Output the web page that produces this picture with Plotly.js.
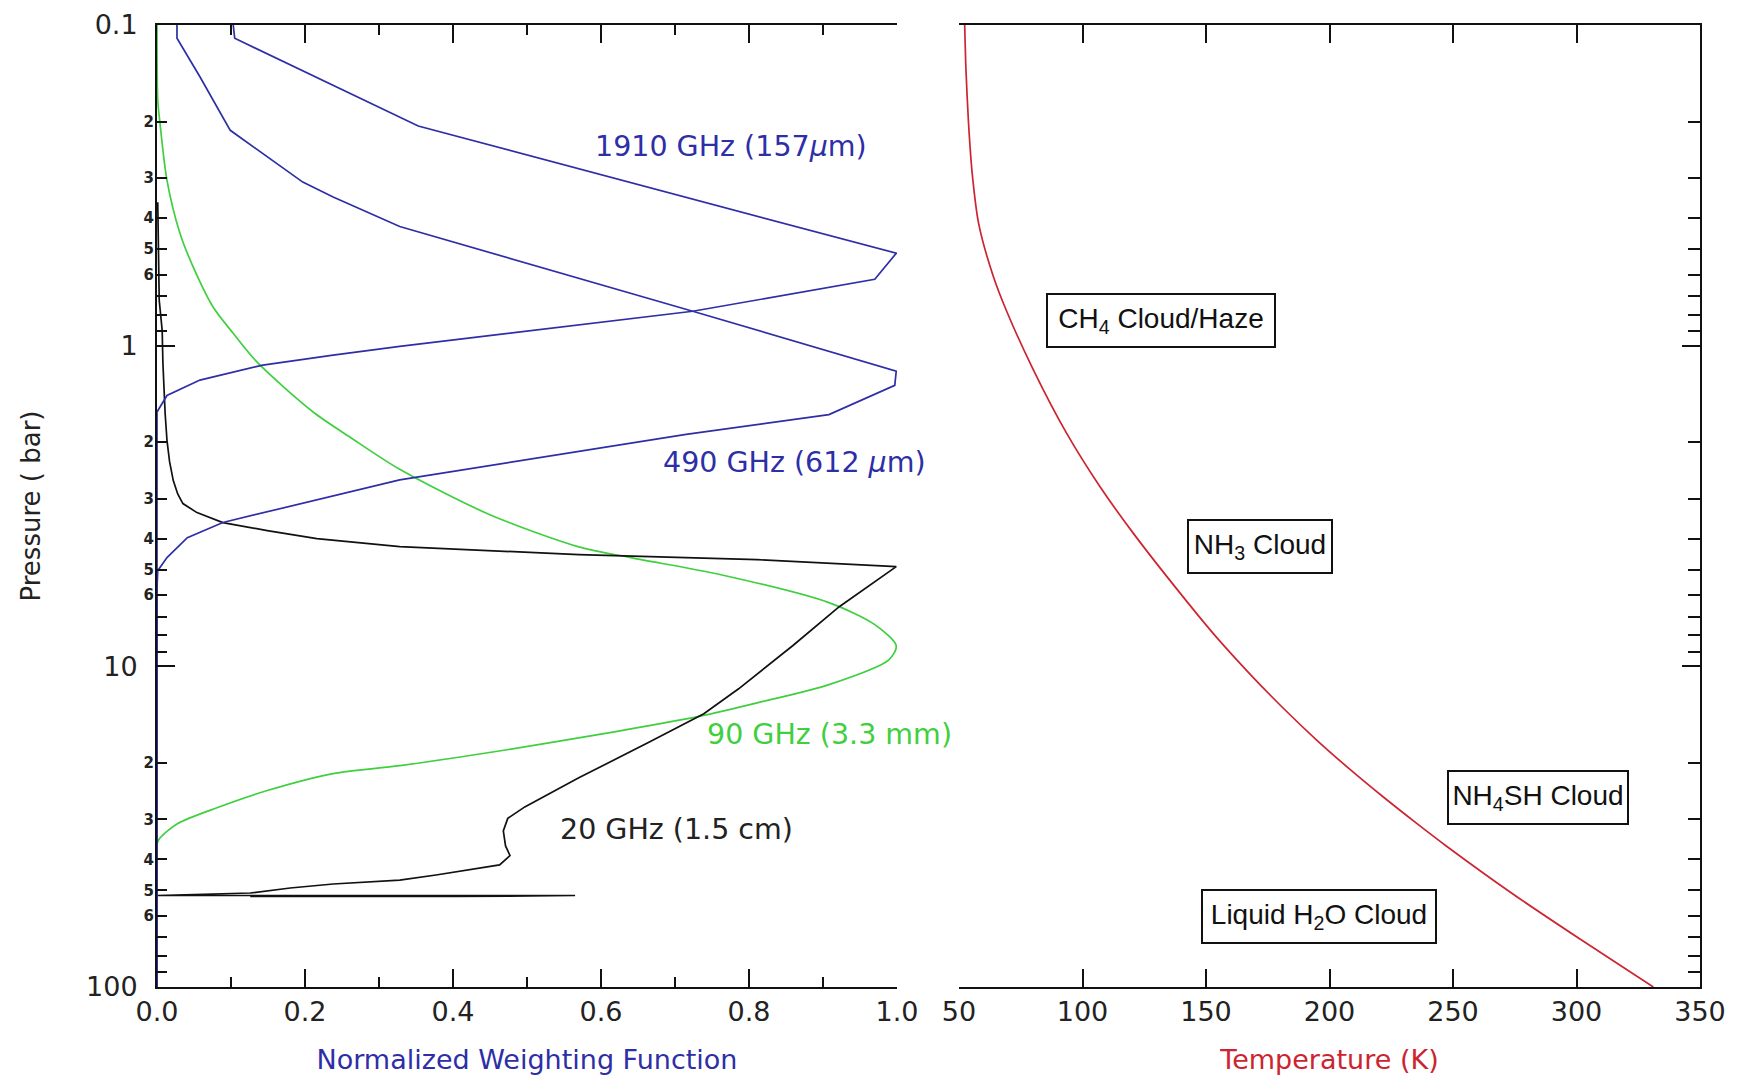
<!DOCTYPE html>
<html>
<head>
<meta charset="utf-8">
<script src="https://cdn.plot.ly/plotly-3.0.1.min.js"></script>
<style>html,body{margin:0;padding:0;background:#fff;}#chart{width:1749px;height:1079px;}</style>
</head>
<body>
<div id="chart"></div>
<script>
// ---------------- DATA ----------------
// 1910 GHz (157 um) weighting function: normalized weight vs pressure (bar)
const wf1910_w = [0.103, 0.105, 0.353, 0.999, 0.970, 0.724, 0.328, 0.238, 0.143, 0.058, 0.0135, 0, 0];
const wf1910_p = [0.100, 0.110, 0.2065, 0.515, 0.621, 0.781, 1.005, 1.07, 1.15, 1.28, 1.43, 1.61, 100];

// 490 GHz (612 um)
const wf490_w = [0.027, 0.027, 0.058, 0.099, 0.197, 0.238, 0.328, 0.724, 0.999, 0.997, 0.908, 0.715, 0.328, 0.089, 0.041, 0.0135, 0.001, 0, 0];
const wf490_p = [0.100, 0.110, 0.145, 0.213, 0.309, 0.344, 0.425, 0.781, 1.20, 1.33, 1.64, 1.89, 2.62, 3.56, 3.97, 4.58, 5.03, 5.69, 100];

// 90 GHz (3.3 mm)
const wf90_w = [0, 0.001, 0.004, 0.0135, 0.031, 0.049, 0.076, 0.103, 0.136, 0.211, 0.261, 0.328, 0.449, 0.570, 0.642, 0.762, 0.908, 0.970, 0.999, 0.989, 0.908, 0.811, 0.734, 0.618, 0.473, 0.328, 0.238, 0.149, 0.081, 0.027, 0.004, 0, 0];
const wf90_p = [0.100, 0.171, 0.202, 0.305, 0.446, 0.569, 0.759, 0.915, 1.13, 1.61, 1.93, 2.43, 3.36, 4.24, 4.59, 5.18, 6.33, 7.41, 8.63, 9.54, 11.4, 13.0, 14.3, 16.0, 18.2, 20.4, 21.6, 24.4, 27.6, 31.0, 34.3, 35.8, 100];

// 20 GHz (1.5 cm)
const wf20_w = [0.001, 0.003, 0.007, 0.008, 0.011, 0.0135, 0.017, 0.022, 0.028, 0.035, 0.054, 0.089, 0.149, 0.216, 0.328, 0.570, 0.811, 0.999, 0.922, 0.859, 0.786, 0.739, 0.666, 0.570, 0.497, 0.474, 0.468, 0.471, 0.477, 0.463, 0.377, 0.328, 0.238, 0.180, 0.126, 0, 0.565, 0.401, 0.126];
const wf20_p = [0.357, 0.722, 0.896, 1.136, 1.627, 1.976, 2.30, 2.634, 2.90, 3.108, 3.316, 3.563, 3.773, 3.997, 4.233, 4.483, 4.648, 4.888, 6.516, 8.625, 11.75, 14.06, 17.19, 22.27, 27.44, 29.8, 32.6, 36.3, 38.9, 41.6, 44.74, 46.39, 47.73, 49.12, 50.92, 51.84, 51.84, 52.21, 52.21];

// Temperature profile (K) vs pressure (bar)
const temp_T = [52.3, 52.8, 53.8, 55.3, 58.0, 63.8, 69.3, 80.1, 93.6, 107.1, 120.6, 140.9, 154.3, 167.8, 181.3, 194.8, 208.3, 221.8, 235.3, 247.4, 274.4, 301.4, 331.1];
const temp_p = [0.100, 0.137, 0.199, 0.288, 0.418, 0.605, 0.781, 1.189, 1.877, 2.754, 3.849, 6.095, 8.125, 10.57, 13.51, 16.98, 20.96, 25.56, 30.89, 36.39, 51.38, 70.86, 100];

// Curve labels (weight, pressure)
const curveLabels = ['1910 GHz (157<i>µ</i>m)', '490 GHz (612 <i>µ</i>m)', '90 GHz (3.3 mm)', '20 GHz (1.5 cm)'];
const curveLabelW = [0.589, 0.681, 0.741, 0.542];
const curveLabelP = [0.2386, 2.306, 16.36, 32.37];

// Cloud labels (temperature, pressure)
const cloudLabels = ['CH<sub>4</sub> Cloud/Haze', 'NH<sub>3</sub> Cloud', 'NH<sub>4</sub>SH Cloud', 'Liquid H<sub>2</sub>O Cloud'];
const cloudT = [131.8, 171.9, 284.4, 195.7];
const cloudP = [0.837, 4.22, 25.6, 60.3];

// Tick labels
const weightTickVals = [0, 0.2, 0.4, 0.6, 0.8, 1.0];
const weightTickText = ['0.0', '0.2', '0.4', '0.6', '0.8', '1.0'];
const weightMinorVals = [0.1, 0.3, 0.5, 0.7, 0.9];
const tempTickVals = [50, 100, 150, 200, 250, 300, 350];
const tempTickText = ['50', '100', '150', '200', '250', '300', '350'];
const presMajorVals = [0.1, 1, 10, 100];
const presMajorText = ['0.1', '1', '10', '100'];
const presLabeledMinorVals = [0.2, 0.3, 0.4, 0.5, 0.6, 2, 3, 4, 5, 6, 20, 30, 40, 50, 60];
const presLabeledMinorText = ['2', '3', '4', '5', '6', '2', '3', '4', '5', '6', '2', '3', '4', '5', '6'];
const presUnlabeledMinorVals = [0.7, 0.8, 0.9, 7, 8, 9, 70, 80, 90];
const presMinorVals = presLabeledMinorVals.concat(presUnlabeledMinorVals);

// ---------------- STYLE ----------------
const BLUE = '#2e2ea6';
const GREEN = '#3fcf3f';
const RED = '#cc2430';
const FONT = 'DejaVu Sans, Verdana, sans-serif';
const BOXFONT = 'Liberation Sans, Arial, sans-serif';

const traces = [
  {x: wf90_w, y: wf90_p, xaxis: 'x', yaxis: 'y', mode: 'lines', line: {color: GREEN, width: 1.7, shape: 'spline', smoothing: 0.8}, hoverinfo: 'skip'},
  {x: wf20_w, y: wf20_p, xaxis: 'x', yaxis: 'y', mode: 'lines', line: {color: '#111', width: 1.7}, hoverinfo: 'skip'},
  {x: wf490_w, y: wf490_p, xaxis: 'x', yaxis: 'y3', mode: 'lines', line: {color: BLUE, width: 1.7}, hoverinfo: 'skip'},
  {x: wf1910_w, y: wf1910_p, xaxis: 'x', yaxis: 'y3', mode: 'lines', line: {color: BLUE, width: 1.7}, hoverinfo: 'skip'},
  {x: temp_T, y: temp_p, xaxis: 'x2', yaxis: 'y2', mode: 'lines', line: {color: RED, width: 1.7, shape: 'spline', smoothing: 0.7}, hoverinfo: 'skip'}
];

const curveColors = [BLUE, BLUE, GREEN, '#222'];
const annotations = [];
curveLabels.forEach((t, i) => annotations.push({
  text: t, x: curveLabelW[i], y: Math.log10(curveLabelP[i]), xref: 'x', yref: 'y',
  xanchor: 'left', yanchor: 'middle', showarrow: false,
  font: {family: FONT, size: 28.5, color: curveColors[i]}
}));
const boxW = [220, 136, 172, 226];
cloudLabels.forEach((t, i) => annotations.push({
  text: t, x: cloudT[i], y: Math.log10(cloudP[i]), xref: 'x2', yref: 'y2',
  xanchor: 'center', yanchor: 'middle', showarrow: false,
  font: {family: BOXFONT, size: 28, color: '#111'},
  bordercolor: '#111', borderwidth: 2, borderpad: 3, bgcolor: '#fff',
  width: boxW[i], height: 45
}));

const tickFont = {family: FONT, size: 27, color: '#222'};
const d1 = [0, 0.47958];
const d2 = [0.51977, 1];

const layout = {
  width: 1749, height: 1079,
  margin: {l: 157, r: 49, t: 25, b: 92},
  paper_bgcolor: '#fff', plot_bgcolor: '#fff',
  showlegend: false,
  xaxis: {
    domain: d1, range: [0, 1], anchor: 'y',
    tickmode: 'array', tickvals: weightTickVals, ticktext: weightTickText,
    ticks: 'inside', ticklen: 18, tickwidth: 2, tickcolor: '#111',
    minor: {tickmode: 'array', tickvals: weightMinorVals, ticks: 'inside', ticklen: 10, tickwidth: 2, tickcolor: '#111', showgrid: false},
    showline: true, linewidth: 2, linecolor: '#111', mirror: 'ticks',
    showgrid: false, zeroline: false, tickfont: tickFont,
    title: {text: 'Normalized Weighting Function', font: {family: FONT, size: 27, color: BLUE}, standoff: 24}
  },
  yaxis: {
    domain: [0, 1], type: 'log', range: [2, -1], anchor: 'x',
    tickmode: 'array', tickvals: presMajorVals, ticktext: presMajorText,
    ticks: 'inside', ticklen: 18, tickwidth: 2, tickcolor: '#111',
    minor: {tickmode: 'array', tickvals: presUnlabeledMinorVals, ticks: 'inside', ticklen: 10, tickwidth: 2, tickcolor: '#111', showgrid: false},
    showline: true, linewidth: 2, linecolor: '#111', mirror: false,
    showgrid: false, zeroline: false, tickfont: tickFont, ticklabelstandoff: 12,
    title: {text: 'Pressure ( bar)', font: {family: FONT, size: 26, color: '#222'}, standoff: 38}
  },
  yaxis3: {
    domain: [0, 1], type: 'log', range: [2, -1], anchor: 'x', overlaying: 'y', side: 'left',
    tickmode: 'array', tickvals: presLabeledMinorVals, ticktext: presLabeledMinorText,
    ticks: 'inside', ticklen: 10, tickwidth: 2, tickcolor: '#111',
    showline: false, showgrid: false, zeroline: false,
    tickfont: {family: FONT, size: 15, color: '#222', weight: 'bold'}, ticklabelstandoff: 2
  },
  xaxis2: {
    domain: d2, range: [50, 350], anchor: 'y2',
    tickmode: 'array', tickvals: tempTickVals, ticktext: tempTickText,
    ticks: 'inside', ticklen: 18, tickwidth: 2, tickcolor: '#111',
    showline: true, linewidth: 2, linecolor: '#111', mirror: 'ticks',
    showgrid: false, zeroline: false, tickfont: tickFont,
    title: {text: 'Temperature (K)', font: {family: FONT, size: 27, color: RED}, standoff: 24}
  },
  yaxis2: {
    domain: [0, 1], type: 'log', range: [2, -1], anchor: 'x2', side: 'right',
    tickmode: 'array', tickvals: presMajorVals,
    ticks: 'inside', ticklen: 18, tickwidth: 2, tickcolor: '#111',
    minor: {tickmode: 'array', tickvals: presMinorVals, ticks: 'inside', ticklen: 12, tickwidth: 2, tickcolor: '#111', showgrid: false},
    showticklabels: false,
    showline: true, linewidth: 2, linecolor: '#111', mirror: false,
    showgrid: false, zeroline: false
  },
  annotations: annotations
};

Plotly.newPlot('chart', traces, layout, {staticPlot: true, displayModeBar: false});
</script>
</body>
</html>
